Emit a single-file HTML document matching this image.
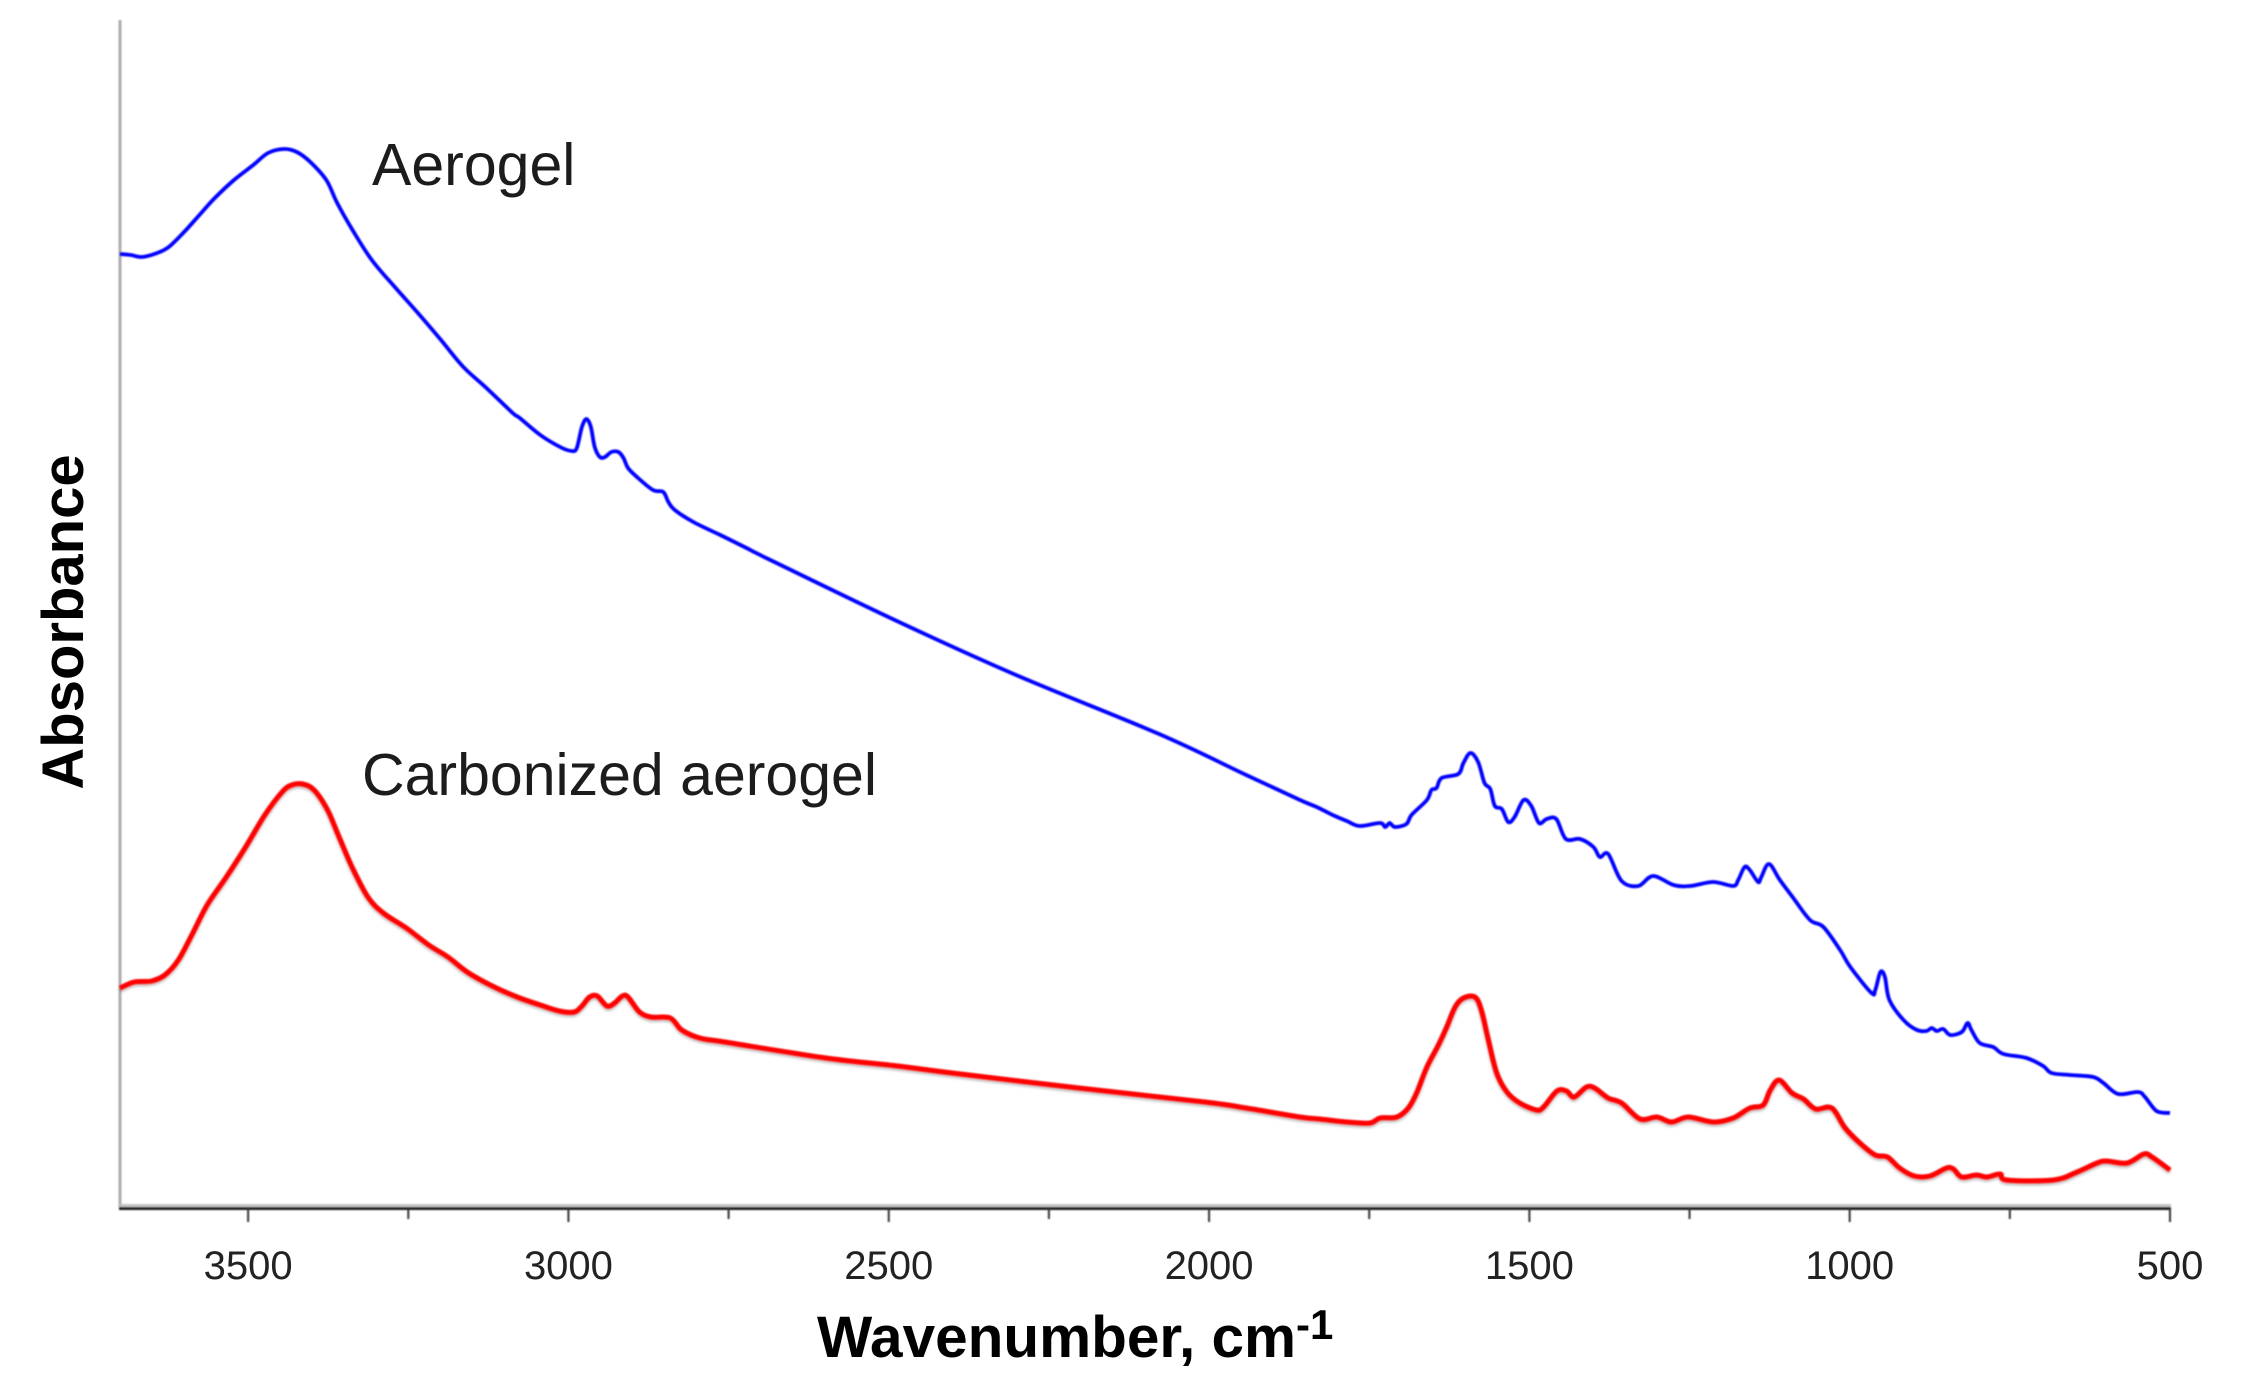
<!DOCTYPE html>
<html lang="en">
<head>
<meta charset="utf-8">
<title>FTIR absorbance spectra</title>
<style>
  html, body { margin: 0; padding: 0; background: #fff; }
  body { width: 2261px; height: 1388px; overflow: hidden; }
  svg { display: block; font-family: "Liberation Sans", Arial, sans-serif; }
</style>
</head>
<body>
<svg id="chart" xmlns="http://www.w3.org/2000/svg" width="2261" height="1388" viewBox="0 0 2261 1388">
  <defs>
    <filter id="soft" x="-2%" y="-2%" width="104%" height="104%"><feGaussianBlur stdDeviation="0.7"/></filter>
    <filter id="redshadow" x="-2%" y="-5%" width="104%" height="110%">
      <feGaussianBlur in="SourceGraphic" stdDeviation="0.7" result="line"/>
      <feDropShadow in="line" dx="0" dy="2" stdDeviation="1.2" flood-color="#000000" flood-opacity="0.3"/>
    </filter>
  </defs>
  <rect width="2261" height="1388" fill="#ffffff"/>
  <g id="axes" filter="url(#soft)">
    <line x1="120" y1="20" x2="120" y2="1207" stroke="#adadad" stroke-width="3"/>
    <line x1="120" y1="1205.5" x2="2171" y2="1205.5" stroke="#c4c4c4" stroke-width="3"/>
    <line x1="119" y1="1208.5" x2="2171" y2="1208.5" stroke="#1a1a1a" stroke-width="3"/>
  </g>
  <g id="series"></g>
  <g id="ticklabels" font-size="40" fill="#222222" text-anchor="middle"></g>
  <text x="372" y="185" font-size="59" fill="#1c1c1c">Aerogel</text>
  <text x="362" y="795" font-size="59" fill="#1c1c1c">Carbonized aerogel</text>
  <text x="817" y="1357" font-size="58.5" font-weight="bold" fill="#000000">Wavenumber, cm<tspan font-size="42" font-weight="bold" dy="-18">-1</tspan></text>
  <text transform="translate(83 622) rotate(-90)" font-size="58" font-weight="bold" fill="#000000" text-anchor="middle">Absorbance</text>
</svg>
<script>
const majorTicks = [3500, 3000, 2500, 2000, 1500, 1000, 500];
const minorTicks = [3250, 2750, 2250, 1750, 1250, 750];
const tickLabels = ["3500", "3000", "2500", "2000", "1500", "1000", "500"];

const aerogelWavenumbers = [3700,3683,3666,3642,3624,3600,3576,3552,3522,3492,3469,3444,3424,3403,3378,3361,3337,3307,3271,3235,3199,3164,3128,3087,3076,3044,3013,2995,2987,2979,2972,2965,2959,2951,2943,2933,2922,2914,2907,2893,2868,2852,2844,2834,2805,2763,2722,2688,2494,2305,2078,1942,1858,1832,1807,1785,1765,1733,1725,1718,1710,1692,1684,1660,1653,1645,1637,1611,1603,1592,1580,1570,1561,1554,1543,1533,1523,1509,1497,1485,1473,1458,1443,1421,1400,1390,1377,1356,1330,1307,1275,1249,1213,1182,1174,1164,1156,1143,1138,1126,1109,1088,1062,1041,1015,999,966,960,952,945,938,916,895,880,872,864,854,843,825,816,810,797,776,760,724,698,685,656,620,604,581,550,539,521,500];
const aerogelAbsorbance = [.954,.953,.951,.955,.961,.976,.993,1.010,1.028,1.043,1.055,1.059,1.056,1.046,1.028,1.005,.978,.948,.921,.895,.868,.841,.820,.795,.790,.773,.761,.757,.760,.781,.789,.781,.761,.751,.751,.756,.756,.750,.740,.731,.718,.716,.706,.698,.686,.673,.660,.649,.589,.534,.474,.433,.408,.401,.393,.387,.382,.385,.381,.385,.381,.384,.393,.408,.418,.420,.430,.434,.445,.455,.446,.425,.419,.402,.399,.386,.391,.408,.402,.385,.389,.389,.369,.369,.361,.351,.354,.327,.322,.332,.323,.322,.326,.322,.328,.341,.338,.326,.331,.344,.328,.310,.288,.281,.258,.241,.215,.218,.236,.231,.208,.188,.178,.177,.180,.177,.179,.173,.176,.185,.178,.165,.161,.154,.150,.142,.135,.133,.131,.125,.114,.116,.111,.097,.095];

const carbonWavenumbers = [3700,3678,3651,3630,3609,3588,3564,3534,3504,3474,3447,3432,3415,3397,3376,3358,3337,3313,3289,3253,3218,3188,3158,3122,3080,3044,3014,2991,2979,2967,2955,2940,2928,2916,2907,2889,2871,2841,2823,2795,2756,2598,2486,2401,2203,2006,1942,1858,1827,1785,1749,1733,1707,1689,1676,1660,1642,1629,1616,1603,1585,1575,1564,1551,1535,1515,1489,1478,1457,1442,1430,1411,1398,1377,1356,1327,1301,1278,1252,1213,1182,1156,1135,1124,1110,1090,1072,1053,1028,1007,984,960,941,922,899,875,849,838,825,802,786,765,755,682,645,614,599,567,541,528,500];
const carbonAbsorbance = [.220,.226,.227,.233,.248,.273,.303,.331,.361,.393,.416,.423,.424,.418,.398,.371,.340,.311,.295,.280,.263,.251,.236,.223,.211,.203,.197,.196,.202,.211,.212,.202,.205,.212,.211,.196,.191,.190,.178,.170,.166,.150,.142,.135,.120,.106,.100,.091,.089,.086,.085,.090,.091,.100,.115,.141,.163,.181,.201,.210,.211,.198,.168,.135,.116,.105,.098,.101,.117,.117,.111,.121,.120,.110,.105,.089,.091,.086,.091,.086,.090,.100,.103,.118,.128,.115,.109,.099,.100,.080,.065,.053,.051,.040,.032,.032,.040,.039,.031,.033,.031,.034,.028,.028,.036,.045,.047,.045,.054,.051,.038];

const SVG_NS = 'http://www.w3.org/2000/svg';

function xScale(wavenumber) {
  return 120 + (3700 - wavenumber) * (2170 - 120) / (3700 - 500);
}
function yScale(absorbance) {
  return 1208 - absorbance * 1000;
}
// Catmull-Rom spline through every data point, giving the rounded look of a continuous spectrum.
function linePath(xs, ys) {
  const pts = xs.map(function (wn, i) {
    return [xScale(wn), yScale(ys[i])];
  });
  let d = 'M' + pts[0][0].toFixed(1) + ' ' + pts[0][1].toFixed(1);
  for (let i = 0; i < pts.length - 1; i++) {
    const p0 = pts[Math.max(i - 1, 0)];
    const p1 = pts[i];
    const p2 = pts[i + 1];
    const p3 = pts[Math.min(i + 2, pts.length - 1)];
    const c1x = p1[0] + (p2[0] - p0[0]) / 6;
    const c1y = p1[1] + (p2[1] - p0[1]) / 6;
    const c2x = p2[0] - (p3[0] - p1[0]) / 6;
    const c2y = p2[1] - (p3[1] - p1[1]) / 6;
    d += ' C' + c1x.toFixed(1) + ' ' + c1y.toFixed(1) + ' ' + c2x.toFixed(1) + ' ' + c2y.toFixed(1) + ' ' + p2[0].toFixed(1) + ' ' + p2[1].toFixed(1);
  }
  return d;
}

const axesGroup = document.getElementById('axes');
const seriesGroup = document.getElementById('series');
const labelGroup = document.getElementById('ticklabels');

majorTicks.forEach(function (wn, i) {
  const tick = document.createElementNS(SVG_NS, 'line');
  
  
  tick.setAttribute('x1', xScale(wn));
  tick.setAttribute('x2', xScale(wn));
  tick.setAttribute('y1', 1208);
  tick.setAttribute('y2', 1222);
  tick.setAttribute('stroke', '#333333');
  tick.setAttribute('stroke-width', 2);
  axesGroup.appendChild(tick);

  const label = document.createElementNS(SVG_NS, 'text');
  
  
  label.setAttribute('x', xScale(wn));
  label.setAttribute('y', 1279);
  label.textContent = tickLabels[i];
  labelGroup.appendChild(label);
});

minorTicks.forEach(function (wn) {
  const tick = document.createElementNS(SVG_NS, 'line');
  
  
  tick.setAttribute('x1', xScale(wn));
  tick.setAttribute('x2', xScale(wn));
  tick.setAttribute('y1', 1208);
  tick.setAttribute('y2', 1219);
  tick.setAttribute('stroke', '#333333');
  tick.setAttribute('stroke-width', 2);
  axesGroup.appendChild(tick);
});

const aerogelLine = document.createElementNS(SVG_NS, 'path');


aerogelLine.setAttribute('d', linePath(aerogelWavenumbers, aerogelAbsorbance));
aerogelLine.setAttribute('fill', 'none');
aerogelLine.setAttribute('stroke', '#0000ff');
aerogelLine.setAttribute('stroke-width', 3.8);
aerogelLine.setAttribute('stroke-linejoin', 'round');
aerogelLine.setAttribute('filter', 'url(#soft)');
seriesGroup.appendChild(aerogelLine);

const carbonLine = document.createElementNS(SVG_NS, 'path');


carbonLine.setAttribute('d', linePath(carbonWavenumbers, carbonAbsorbance));
carbonLine.setAttribute('fill', 'none');
carbonLine.setAttribute('stroke', '#ff0000');
carbonLine.setAttribute('stroke-width', 5);
carbonLine.setAttribute('stroke-linejoin', 'round');
carbonLine.setAttribute('filter', 'url(#redshadow)');
seriesGroup.appendChild(carbonLine);
</script>
</body>
</html>
